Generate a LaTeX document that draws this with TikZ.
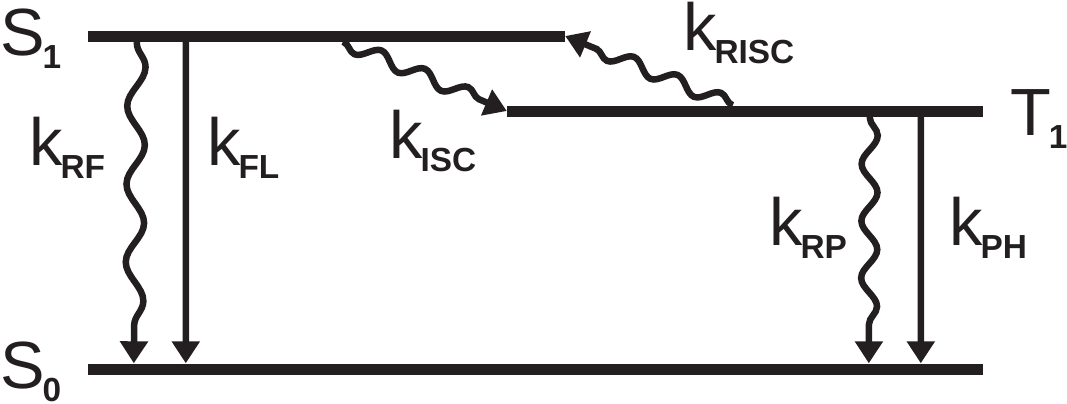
\documentclass[tikz,border=0pt]{standalone}
\usepackage{fontspec}
\setmainfont{Liberation Sans}
\usetikzlibrary{arrows.meta,decorations.pathmorphing}
\definecolor{ink}{HTML}{231F20}
\newcommand{\withsub}[2]{#1\kern-2bp\raisebox{-13bp}{\fontsize{33.5}{33.5}\selectfont\bfseries #2}}

\begin{document}
\begin{tikzpicture}[
    x=1bp,y=-1bp,>={Triangle[width=27bp,length=22bp]},
    level/.style={fill=ink,inner sep=0pt,minimum height=11bp},
    level label/.style={inner sep=0pt,anchor=base west,text=ink,
      font=\fontsize{67}{67}\selectfont},
    rate arrow/.style={->,draw=ink,line width=6.5bp},
    wavy arrow/.style 2 args={rate arrow,decorate,decoration={snake,
      segment length=#1,amplitude=#2,pre length=1bp,post length=22bp}}
  ]
    \useasboundingbox (0,0) rectangle (1067,403);
    % levels
    \node[level,minimum width=477bp] (S1) at (326.5,36) {};
    \node[level,minimum width=476bp] (T1) at (745,111) {};
    \node[level,minimum width=895bp] (S0) at (535.5,369) {};
    \node[level label] (S1 name) at (0,55) {\withsub{S}{1}};
    \node[level label] (S0 name) at (0,388) {\withsub{S}{0}};
    \node[level label] (T1 name) at (1010,135) {\withsub{T}{1}};
    % rates
    \node[level label] (kRF) at (29,165) {\withsub{k}{RF}};
    \node[level label] (kFL) at (207,165) {\withsub{k}{FL}};
    \node[level label] (kISC) at (389,158) {\withsub{k}{ISC}};
    \node[level label] (kRISC) at (683,50) {\withsub{k}{RISC}};
    \node[level label] (kRP) at (769,245) {\withsub{k}{RP}};
    \node[level label] (kPH) at (949,245) {\withsub{k}{PH}};
    \draw[wavy arrow={78bp}{9bp}] ([xshift=49bp]S1.south west) -- ([xshift=46bp]S0.north west);
    \draw[rate arrow] ([xshift=98bp]S1.south west) -- ([xshift=98bp]S0.north west);
    \draw[wavy arrow={47bp}{-7bp}] ([xshift=255bp]S1.south west) -- (T1.west);
    \draw[wavy arrow={47bp}{-7bp}] ([xshift=226bp]T1.north west) -- (S1.east);
    \draw[wavy arrow={57bp}{8bp}] ([xshift=363bp]T1.south west) -- ([xshift=781bp]S0.north west);
    \draw[rate arrow] ([xshift=414bp]T1.south west) -- ([xshift=833bp]S0.north west);
  \end{tikzpicture}
\end{document}
